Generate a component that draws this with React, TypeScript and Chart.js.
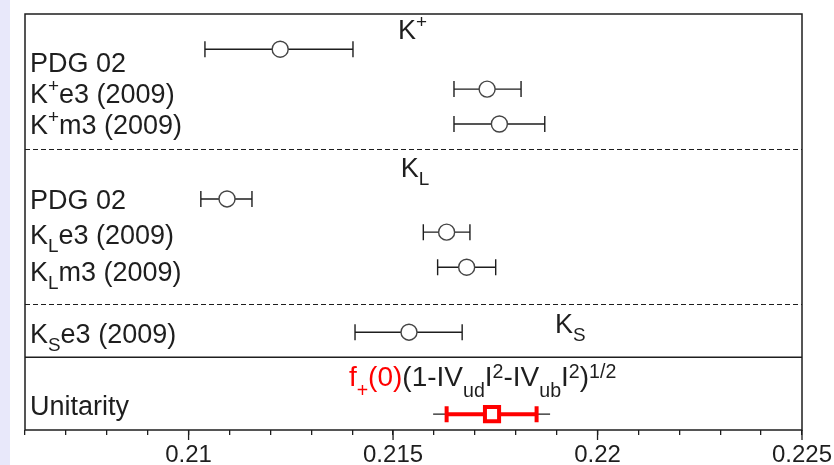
import React, { useEffect, useRef } from 'react';
import { Chart, registerables } from 'chart.js';

Chart.register(...registerables);

const FONT = '"Liberation Sans", Arial, Helvetica, sans-serif';
const RED = '#ff0000';
const INK = '#1e1e1e';

type Seg = { t: string; k?: 'sup' | 'sub'; c?: string };

// x axis
const xMin = 0.206;
const xMax = 0.225;
const minorStep = 0.001;
const majorTicks = [0.21, 0.215, 0.22, 0.225];
const majorTickLabels = ['0.21', '0.215', '0.22', '0.225'];
// y (row) axis, rows counted from the top
const yMin = 0;
const yMax = 11.27;

// measurements
const centralValues = [0.21224, 0.2173, 0.2176, 0.21094, 0.21631, 0.2168, 0.21539];
const lowerBounds = [0.2104, 0.21649, 0.21649, 0.2103, 0.21574, 0.21609, 0.21407];
const upperBounds = [0.21402, 0.21813, 0.21871, 0.21155, 0.21688, 0.21751, 0.21669];
const rowPositions = [0.954, 2.035, 2.98, 5.01, 5.91, 6.86, 8.62];

// unitarity prediction
const unitarityValue = 0.21742;
const unitarityInner = [0.21631, 0.21851];
const unitarityOuter = [0.21598, 0.21884];
const unitarityRow = 10.84;

// row labels
const rowLabels: Seg[][] = [
  [{ t: 'PDG 02' }],
  [{ t: 'K' }, { t: '+', k: 'sup' }, { t: 'e3 (2009)' }],
  [{ t: 'K' }, { t: '+', k: 'sup' }, { t: 'm3 (2009)' }],
  [{ t: 'PDG 02' }],
  [{ t: 'K' }, { t: 'L', k: 'sub' }, { t: 'e3 (2009)' }],
  [{ t: 'K' }, { t: 'L', k: 'sub' }, { t: 'm3 (2009)' }],
  [{ t: 'K' }, { t: 'S', k: 'sub' }, { t: 'e3 (2009)' }],
  [{ t: 'Unitarity' }],
];
const rowLabelBaselines = [1.57, 2.4, 3.25, 5.28, 6.22, 7.22, 8.92, 10.86];

// group titles
const groupTitles: Seg[][] = [
  [{ t: 'K' }, { t: '+', k: 'sup' }],
  [{ t: 'K' }, { t: 'L', k: 'sub' }],
  [{ t: 'K' }, { t: 'S', k: 'sub' }],
  [
    { t: 'f', c: RED },
    { t: '+', k: 'sub', c: RED },
    { t: '(0)', c: RED },
    { t: '(1-IV' },
    { t: 'ud', k: 'sub' },
    { t: 'I' },
    { t: '2', k: 'sup' },
    { t: '-IV' },
    { t: 'ub', k: 'sub' },
    { t: 'I' },
    { t: '2', k: 'sup' },
    { t: ')' },
    { t: '1/2', k: 'sup' },
  ],
];
const groupTitleX = [0.21512, 0.21519, 0.21896, 0.21392];
const groupTitleY = [0.676, 4.41, 8.65, 10.08];

// separators
const dashedSeparators = [3.65, 7.86];
const solidSeparators = [9.3];

function drawRich(
  ctx: CanvasRenderingContext2D,
  x: number,
  y: number,
  segs: Seg[],
  size: number,
  subShift = 0.3,
  supShift = 0.4
) {
  let cx = x;
  for (const s of segs) {
    const fs = s.k ? size * 0.7 : size;
    const dy = s.k === 'sup' ? -size * supShift : s.k === 'sub' ? size * subShift : 0;
    ctx.font = `${fs}px ${FONT}`;
    ctx.fillStyle = s.c || INK;
    ctx.textAlign = 'left';
    ctx.textBaseline = 'alphabetic';
    ctx.fillText(s.t, cx, y + dy);
    cx += ctx.measureText(s.t).width;
  }
}

const overlay = {
  id: 'overlay',
  beforeDraw(chart: any) {
    const { ctx, width, height } = chart;
    ctx.save();
    ctx.fillStyle = '#ffffff';
    ctx.fillRect(0, 0, width, height);
    ctx.fillStyle = '#e8e8fa';
    ctx.fillRect(0, 0, 10, height);
    ctx.restore();
  },
  beforeDatasetsDraw(chart: any) {
    const { ctx, chartArea: a, scales } = chart;
    const x = scales.x;
    const y = scales.y;
    ctx.save();
    // separators
    ctx.strokeStyle = INK;
    ctx.lineWidth = 1.2;
    ctx.setLineDash([5, 3]);
    dashedSeparators.forEach((v) => {
      const py = Math.round(y.getPixelForValue(v)) + 0.5;
      ctx.beginPath();
      ctx.moveTo(a.left, py);
      ctx.lineTo(a.right, py);
      ctx.stroke();
    });
    ctx.setLineDash([]);
    ctx.lineWidth = 1.5;
    solidSeparators.forEach((v) => {
      const py = y.getPixelForValue(v);
      ctx.beginPath();
      ctx.moveTo(a.left, py);
      ctx.lineTo(a.right, py);
      ctx.stroke();
    });
    // error bars
    ctx.lineWidth = 1.4;
    ctx.strokeStyle = INK;
    centralValues.forEach((_, i) => {
      const py = y.getPixelForValue(rowPositions[i]);
      const x0 = x.getPixelForValue(lowerBounds[i]);
      const x1 = x.getPixelForValue(upperBounds[i]);
      ctx.beginPath();
      ctx.moveTo(x0, py);
      ctx.lineTo(x1, py);
      ctx.moveTo(x0, py - 8);
      ctx.lineTo(x0, py + 8);
      ctx.moveTo(x1, py - 8);
      ctx.lineTo(x1, py + 8);
      ctx.stroke();
    });
    // unitarity band
    const uy = y.getPixelForValue(unitarityRow);
    ctx.lineWidth = 1.3;
    ctx.beginPath();
    ctx.moveTo(x.getPixelForValue(unitarityOuter[0]), uy);
    ctx.lineTo(x.getPixelForValue(unitarityOuter[1]), uy);
    ctx.stroke();
    ctx.strokeStyle = RED;
    ctx.lineWidth = 4;
    const u0 = x.getPixelForValue(unitarityInner[0]);
    const u1 = x.getPixelForValue(unitarityInner[1]);
    ctx.beginPath();
    ctx.moveTo(u0, uy);
    ctx.lineTo(u1, uy);
    ctx.moveTo(u0, uy - 8);
    ctx.lineTo(u0, uy + 8);
    ctx.moveTo(u1, uy - 8);
    ctx.lineTo(u1, uy + 8);
    ctx.stroke();
    ctx.restore();
  },
  afterDatasetsDraw(chart: any) {
    const { ctx, chartArea: a, scales } = chart;
    const x = scales.x;
    const y = scales.y;
    ctx.save();
    // frame
    ctx.strokeStyle = INK;
    ctx.lineWidth = 1.5;
    ctx.strokeRect(a.left, a.top, a.right - a.left, a.bottom - a.top);
    // longer major ticks and their labels
    ctx.lineWidth = 1.3;
    ctx.fillStyle = INK;
    ctx.font = `24px ${FONT}`;
    ctx.textAlign = 'center';
    ctx.textBaseline = 'alphabetic';
    majorTicks.forEach((v, i) => {
      const px = x.getPixelForValue(v);
      ctx.beginPath();
      ctx.moveTo(px, a.bottom);
      ctx.lineTo(px, a.bottom + 10);
      ctx.stroke();
      ctx.fillText(majorTickLabels[i], px, a.bottom + 31.5);
    });
    // row labels
    rowLabels.forEach((segs, i) => {
      drawRich(ctx, a.left + 5, y.getPixelForValue(rowLabelBaselines[i]), segs, 27);
    });
    // group titles
    groupTitles.forEach((segs, i) => {
      const isFormula = i === 3;
      drawRich(
        ctx,
        x.getPixelForValue(groupTitleX[i]),
        y.getPixelForValue(groupTitleY[i]),
        segs,
        isFormula ? 28 : 27,
        isFormula ? 0.38 : 0.3,
        isFormula ? 0.3 : 0.4
      );
    });
    ctx.restore();
  },
};

export default function App() {
  const ref = useRef<HTMLCanvasElement | null>(null);
  useEffect(() => {
    document.body.style.margin = '0';
    const canvas = ref.current;
    if (!canvas) return;
    const chart = new Chart(canvas, {
      type: 'scatter',
      data: {
        datasets: [
          {
            label: 'measurements',
            data: centralValues.map((v, i) => ({ x: v, y: rowPositions[i] })),
            pointStyle: 'circle',
            pointRadius: 8,
            pointHoverRadius: 8,
            pointBackgroundColor: '#ffffff',
            pointBorderColor: '#444444',
            pointBorderWidth: 1.4,
          },
          {
            label: 'unitarity',
            data: [{ x: unitarityValue, y: unitarityRow }],
            pointStyle: 'rect',
            pointRadius: 10,
            pointHoverRadius: 10,
            pointBackgroundColor: '#ffffff',
            pointBorderColor: RED,
            pointBorderWidth: 4,
          },
        ],
      },
      options: {
        animation: false,
        responsive: false,
        events: [],
        layout: { padding: { left: 25, right: 32, top: 13, bottom: 30 } },
        plugins: { legend: { display: false }, tooltip: { enabled: false } },
        scales: {
          x: {
            type: 'linear',
            min: xMin,
            max: xMax,
            border: { display: false },
            grid: {
              drawOnChartArea: false,
              drawTicks: true,
              tickLength: 5,
              color: INK,
              lineWidth: 1.3,
            },
            ticks: {
              display: false,
              stepSize: minorStep,
              autoSkip: false,
              maxRotation: 0,
            },
          },
          y: {
            type: 'linear',
            display: false,
            reverse: true,
            min: yMin,
            max: yMax,
          },
        },
      },
      plugins: [overlay],
    });
    return () => chart.destroy();
  }, []);
  return <canvas ref={ref} width={834} height={465} style={{ display: 'block', width: 834, height: 465 }} />;
}
